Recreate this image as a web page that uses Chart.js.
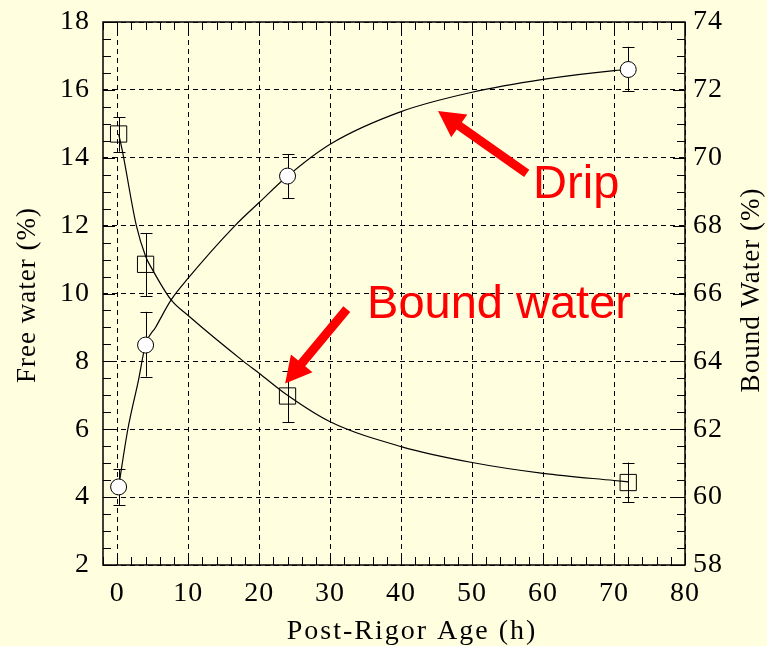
<!DOCTYPE html>
<html>
<head>
<meta charset="utf-8">
<script src="https://cdn.jsdelivr.net/npm/chart.js@4.4.1/dist/chart.umd.min.js"></script>
<style>
  html, body { margin: 0; padding: 0; background: #FFFFE0; }
  #wrap { width: 767px; height: 646px; position: relative; }
</style>
</head>
<body>
<div id="wrap"><canvas id="waterChart"></canvas></div>
<script>
// Measured points (post-rigor age in hours)
const hours = [0.2, 4, 24, 72];
const freeWater = [4.3, 8.48, 13.46, 16.6];
const freeErrLow = [3.77, 7.55, 12.8, 15.97];
const freeErrHigh = [4.82, 9.46, 14.1, 17.27];
const boundWater = [70.7, 66.86, 62.98, 60.43];
const boundErrLow = [70.18, 65.93, 62.2, 59.85];
const boundErrHigh = [71.19, 67.77, 63.73, 61.02];

// Fitted curves
const dripFitX = [0.2, 1.5, 3, 4, 5.4, 7.6, 10, 16.6, 20, 24, 30, 40, 50, 60, 70, 72];
const dripFitY = [4.3, 6.0, 7.45, 8.5, 9.0, 9.81, 10.45, 12.0, 12.68, 13.46, 14.4, 15.36, 15.93, 16.31, 16.57, 16.6];
const boundFitX = [0.2, 0.7, 2.7, 4, 5, 7.6, 10, 17.8, 20, 24, 30, 40, 50, 60, 70, 72];
const boundFitY = [70.7, 70.23, 68.0, 67.1, 66.69, 65.81, 65.35, 64.0, 63.65, 63.0, 62.22, 61.49, 61.02, 60.7, 60.49, 60.45];

// Axis ticks
const xTicks = [0, 10, 20, 30, 40, 50, 60, 70, 80];
const yTicks = [2, 4, 6, 8, 10, 12, 14, 16, 18];
const y1Ticks = [58, 60, 62, 64, 66, 68, 70, 72, 74];

const serif = 'Liberation Serif';
const toPoints = (xs, ys) => xs.map((x, i) => ({ x: x, y: ys[i] }));

// error bars under the markers
const errorBars = {
    id: 'errorBars',
    beforeDatasetsDraw(chart) {
        const { ctx, scales } = chart;
        const sets = [
            { axis: scales.y, lo: freeErrLow, hi: freeErrHigh },
            { axis: scales.y1, lo: boundErrLow, hi: boundErrHigh }
        ];
        ctx.save();
        ctx.strokeStyle = '#000';
        ctx.lineWidth = 1;
        sets.forEach(s => {
            hours.forEach((h, i) => {
                const px = Math.round(scales.x.getPixelForValue(h)) + 0.5;
                const top = s.axis.getPixelForValue(s.hi[i]);
                const bot = s.axis.getPixelForValue(s.lo[i]);
                ctx.beginPath();
                ctx.moveTo(px, top); ctx.lineTo(px, bot);
                ctx.moveTo(px - 6, Math.round(top) + 0.5); ctx.lineTo(px + 6, Math.round(top) + 0.5);
                ctx.moveTo(px - 6, Math.round(bot) + 0.5); ctx.lineTo(px + 6, Math.round(bot) + 0.5);
                ctx.stroke();
            });
        });
        ctx.restore();
    }
};

// inward tick marks on all four sides
const frameTicks = {
    id: 'frameTicks',
    afterDraw(chart) {
        const { ctx, chartArea: a, scales } = chart;
        ctx.save();
        ctx.strokeStyle = '#000';
        ctx.lineWidth = 1;
        ctx.beginPath();
        for (let v = -2; v <= 80; v += 2) {
            const px = Math.round(scales.x.getPixelForValue(v)) + 0.5;
            const len = v % 10 === 0 ? 12 : 8;
            ctx.moveTo(px, a.bottom); ctx.lineTo(px, a.bottom - len);
            ctx.moveTo(px, a.top); ctx.lineTo(px, a.top + len);
        }
        for (let v = 2; v <= 18; v += 0.5) {
            const py = Math.round(scales.y.getPixelForValue(v)) + 0.5;
            const len = v % 2 === 0 ? 12 : 8;
            ctx.moveTo(a.left, py); ctx.lineTo(a.left + len, py);
        }
        for (let v = 58; v <= 74; v += 0.5) {
            const py = Math.round(scales.y1.getPixelForValue(v)) + 0.5;
            const len = v % 2 === 0 ? 12 : 8;
            ctx.moveTo(a.right, py); ctx.lineTo(a.right - len, py);
        }
        ctx.stroke();
        ctx.lineWidth = 1.5;
        ctx.strokeRect(a.left, a.top, a.right - a.left, a.bottom - a.top);
        ctx.restore();
    }
};

// axis titles (serif, slightly letter-spaced like the original)
const axisTitles = {
    id: 'axisTitles',
    afterDraw(chart) {
        const { ctx } = chart;
        ctx.save();
        ctx.fillStyle = '#000';
        ctx.font = '27px "' + serif + '"';
        ctx.letterSpacing = '1px';
        ctx.textAlign = 'center';
        ctx.textBaseline = 'middle';
        ctx.save();
        ctx.translate(28, 295);
        ctx.rotate(-Math.PI / 2);
        ctx.fillText('Free water (%)', 0, 0);
        ctx.restore();
        ctx.save();
        ctx.translate(752, 290);
        ctx.rotate(-Math.PI / 2);
        ctx.fillText('Bound Water (%)', 0, 0);
        ctx.restore();
        ctx.font = '28px "' + serif + '"';
        ctx.letterSpacing = '2px';
        ctx.textBaseline = 'alphabetic';
        ctx.fillText('Post-Rigor Age (h)', 412, 639);
        ctx.restore();
    }
};

// red arrows and labels
function drawArrow(ctx, x1, y1, x2, y2) {
    const ang = Math.atan2(y2 - y1, x2 - x1);
    const headLen = 26, headW = 14, shaftW = 4.5;
    const bx = x2 - headLen * Math.cos(ang), by = y2 - headLen * Math.sin(ang);
    const nx = -Math.sin(ang), ny = Math.cos(ang);
    ctx.beginPath();
    ctx.moveTo(x1 + nx * shaftW, y1 + ny * shaftW);
    ctx.lineTo(bx + nx * shaftW, by + ny * shaftW);
    ctx.lineTo(bx + nx * headW, by + ny * headW);
    ctx.lineTo(x2, y2);
    ctx.lineTo(bx - nx * headW, by - ny * headW);
    ctx.lineTo(bx - nx * shaftW, by - ny * shaftW);
    ctx.lineTo(x1 - nx * shaftW, y1 - ny * shaftW);
    ctx.closePath();
    ctx.fill();
}

const annotations = {
    id: 'annotations',
    afterDatasetsDraw(chart) {
        const { ctx, scales: { x, y } } = chart;
        ctx.save();
        ctx.fillStyle = '#FF0000';
        drawArrow(ctx, x.getPixelForValue(57.7), y.getPixelForValue(13.54),
                       x.getPixelForValue(45.2), y.getPixelForValue(15.38));
        drawArrow(ctx, x.getPixelForValue(32.35), y.getPixelForValue(9.54),
                       x.getPixelForValue(23.66), y.getPixelForValue(7.35));
        ctx.font = '47px "Liberation Sans"';
        ctx.letterSpacing = '0px';
        ctx.textAlign = 'left';
        ctx.textBaseline = 'alphabetic';
        ctx.fillText('Drip', x.getPixelForValue(58.6), y.getPixelForValue(12.81));
        ctx.fillText('Bound water', x.getPixelForValue(35.2), y.getPixelForValue(9.28));
        ctx.restore();
    }
};

// wider tick lettering
const tickSpacing = {
    id: 'tickSpacing',
    beforeDraw(chart) { chart.ctx.letterSpacing = '1px'; },
    afterDraw(chart) { chart.ctx.letterSpacing = '0px'; }
};

// keep the plot box fixed: no extra room for overhanging labels
const noPad = s => { s.paddingTop = 0; s.paddingBottom = 0; s.paddingLeft = 0; s.paddingRight = 0; };

const ctx = document.getElementById('waterChart').getContext('2d');

new Chart(ctx, {
    type: 'scatter',
    data: {
        datasets: [
            { label: 'Free water', data: toPoints(hours, freeWater), yAxisID: 'y', showLine: false,
              pointStyle: 'circle', pointRadius: 8, pointBackgroundColor: '#fff', pointBorderColor: '#000', pointBorderWidth: 1 },
            { label: 'Bound water', data: toPoints(hours, boundWater), yAxisID: 'y1', showLine: false,
              pointStyle: 'rect', pointRadius: 11.5, pointBackgroundColor: 'rgba(0,0,0,0)', pointBorderColor: '#000', pointBorderWidth: 1 },
            { label: 'Drip fit', data: toPoints(dripFitX, dripFitY), yAxisID: 'y', showLine: true,
              borderColor: '#000', borderWidth: 1.2, pointRadius: 0, cubicInterpolationMode: 'monotone' },
            { label: 'Bound fit', data: toPoints(boundFitX, boundFitY), yAxisID: 'y1', showLine: true,
              borderColor: '#000', borderWidth: 1.2, pointRadius: 0, cubicInterpolationMode: 'monotone' }
        ]
    },
    options: {
        responsive: true,
        maintainAspectRatio: false,
        animation: false,
        layout: { padding: { top: 22, left: 0, right: 0, bottom: 0 } },
        plugins: { legend: { display: false }, tooltip: { enabled: false } },
        scales: {
            x: {
                type: 'linear', min: -2, max: 80,
                afterBuildTicks: s => { s.ticks = xTicks.map(v => ({ value: v })); },
                afterFit: s => { s.height = 81; noPad(s); },
                grid: { color: '#000', lineWidth: 1, drawTicks: false },
                border: { display: false, dash: [5, 4] },
                ticks: { color: '#000', padding: 12, maxRotation: 0, font: { family: serif, size: 28 } }
            },
            y: {
                type: 'linear', position: 'left', min: 2, max: 18,
                afterBuildTicks: s => { s.ticks = yTicks.map(v => ({ value: v })); },
                afterFit: s => { s.width = 103; noPad(s); },
                grid: { color: '#000', lineWidth: 1, drawTicks: false },
                border: { display: false, dash: [5, 4] },
                ticks: { color: '#000', padding: 13, font: { family: serif, size: 28 } }
            },
            y1: {
                type: 'linear', position: 'right', min: 58, max: 74,
                afterBuildTicks: s => { s.ticks = y1Ticks.map(v => ({ value: v })); },
                afterFit: s => { s.width = 82; noPad(s); },
                grid: { display: false, drawTicks: false },
                border: { display: false },
                ticks: { color: '#000', padding: 8, font: { family: serif, size: 28 } }
            }
        }
    },
    plugins: [tickSpacing, errorBars, annotations, frameTicks, axisTitles]
});
</script>
</body>
</html>
